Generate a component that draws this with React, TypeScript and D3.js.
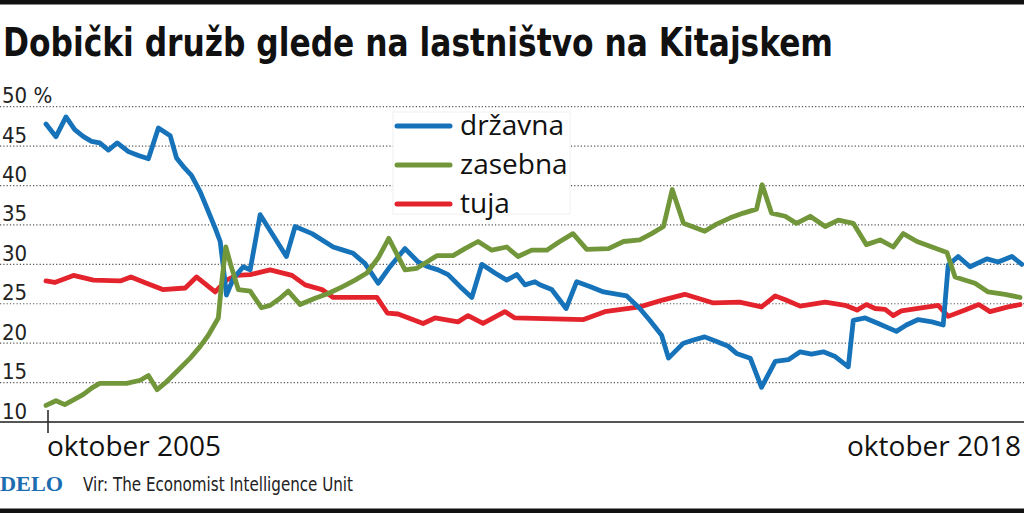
import React from "react";
import * as d3 from "d3";

// months since October 2005 (0 = Oct 2005, 156 = Oct 2018), values in %
const drzavna: [number, number][] = [
  [0, 47.8], [1.6, 46.2], [3.2, 48.7], [4.6, 47.1], [6.0, 46.2], [7.3, 45.6], [8.6, 45.4],
  [10.0, 44.5], [11.4, 45.4], [13.2, 44.3], [14.8, 43.8], [16.4, 43.4], [18.0, 47.3],
  [19.9, 46.3], [20.9, 43.5], [22.0, 42.4], [23.3, 41.3], [24.7, 39.2], [26.0, 36.7],
  [27.1, 34.6], [27.9, 32.9], [28.3, 30.3], [28.9, 26.1], [30.0, 28.2], [31.6, 29.7],
  [32.7, 29.3], [34.3, 36.3], [38.5, 31.0], [39.9, 34.8], [42.6, 33.9], [46.0, 32.2],
  [47.6, 31.8], [49.2, 31.4], [51.1, 30.1], [53.2, 27.6], [55.1, 29.7], [57.5, 32.0],
  [59.6, 30.3], [61.2, 29.7], [62.8, 29.3], [64.4, 28.7], [66.3, 27.2], [68.2, 25.8],
  [69.8, 30.0], [71.9, 28.9], [73.8, 28.0], [75.4, 28.7], [76.7, 27.4], [78.3, 27.8],
  [79.1, 27.4], [81.0, 26.8], [83.3, 24.4], [85.0, 27.8], [87.1, 27.2], [89.3, 26.5],
  [90.9, 26.3], [93.0, 26.0], [95.1, 24.4], [96.7, 22.9], [98.6, 21.0], [99.7, 18.1],
  [102.1, 20.0], [103.7, 20.4], [105.5, 20.8], [107.4, 20.2], [109.3, 19.6], [110.6, 18.7],
  [112.8, 18.1], [114.6, 14.4], [116.8, 17.7], [118.9, 17.9], [120.8, 18.9], [122.6, 18.6],
  [124.5, 18.9], [126.4, 18.3], [128.5, 17.0], [129.3, 22.9], [131.2, 23.2], [133.3, 22.5],
  [136.2, 21.5], [137.8, 22.3], [139.7, 23.0], [141.9, 22.7], [143.7, 22.3], [144.5, 29.9],
  [146.1, 31.0], [148.0, 29.7], [150.7, 30.7], [152.5, 30.3], [154.7, 31.0], [156.3, 30.0],
];

const zasebna: [number, number][] = [
  [0, 12.1], [1.6, 12.7], [3.0, 12.2], [4.4, 12.8], [6.0, 13.5], [7.3, 14.3], [8.6, 14.9],
  [12.9, 14.9], [15.1, 15.3], [16.4, 15.9], [17.8, 14.1], [19.3, 15.1], [21.2, 16.6],
  [23.1, 18.1], [24.7, 19.6], [26.0, 21.0], [27.6, 23.2], [28.1, 27.4], [28.8, 32.2],
  [29.6, 29.9], [30.8, 26.8], [32.7, 26.6], [34.5, 24.5], [35.9, 24.8], [37.5, 25.7],
  [38.8, 26.6], [40.7, 24.9], [43.1, 25.7], [45.2, 26.3], [47.6, 27.2], [49.5, 28.0],
  [51.4, 28.9], [53.2, 30.8], [54.9, 33.3], [57.5, 29.3], [59.4, 29.5], [61.0, 30.3],
  [62.6, 31.1], [65.2, 31.1], [67.1, 32.0], [69.2, 32.9], [71.4, 31.8], [73.8, 32.2],
  [75.6, 31.0], [77.8, 31.8], [80.2, 31.8], [82.3, 32.9], [84.4, 33.9], [86.6, 31.9],
  [90.1, 32.0], [92.5, 32.9], [95.1, 33.1], [97.0, 33.9], [98.9, 34.8], [100.3, 39.5],
  [102.1, 35.2], [105.5, 34.2], [107.4, 35.1], [109.6, 35.9], [111.7, 36.5], [113.8, 37.0],
  [114.7, 40.1], [116.2, 36.5], [118.4, 36.1], [120.2, 35.2], [122.4, 36.1], [124.8, 34.8],
  [126.9, 35.6], [129.3, 35.2], [131.4, 32.5], [133.6, 33.1], [135.7, 32.2], [137.3, 33.9],
  [139.5, 32.9], [141.9, 32.2], [144.3, 31.5], [145.6, 28.4], [148.8, 27.6], [150.9, 26.5],
  [153.6, 26.2], [156.0, 25.8],
];

const tuja: [number, number][] = [
  [0, 27.9], [1.4, 27.7], [4.4, 28.6], [7.6, 28.0], [11.9, 27.9], [13.6, 28.4], [16.1, 27.6],
  [18.7, 26.8], [22.3, 27.0], [24.1, 28.4], [27.1, 26.5], [28.9, 28.0], [30.5, 28.6],
  [32.7, 28.7], [35.9, 29.3], [39.4, 28.6], [41.5, 27.4], [44.2, 26.8], [46.0, 25.8],
  [53.0, 25.8], [54.7, 23.8], [56.4, 23.7], [60.4, 22.5], [62.3, 23.2], [66.0, 22.7],
  [67.6, 23.5], [70.0, 22.5], [73.5, 24.0], [75.1, 23.2], [86.1, 23.0], [89.5, 24.0],
  [95.1, 24.6], [98.9, 25.5], [102.3, 26.2], [106.9, 25.1], [111.1, 25.2], [114.6, 24.6],
  [116.8, 26.0], [118.4, 25.5], [120.8, 24.7], [124.8, 25.2], [128.0, 24.8], [129.9, 24.2],
  [131.4, 24.9], [132.8, 24.4], [134.4, 24.3], [135.7, 23.5], [137.0, 24.1], [142.9, 24.8],
  [144.5, 23.4], [147.2, 24.2], [149.4, 24.9], [151.2, 24.0], [154.1, 24.6], [156.0, 24.9],
];

const yTicks = [10, 15, 20, 25, 30, 35, 40, 45, 50];
const xLabels = ["oktober 2005", "oktober 2018"];
const seriesNames = ["državna", "zasebna", "tuja"];
const title = "Dobički družb glede na lastništvo na Kitajskem";
const source = "Vir: The Economist Intelligence Unit";

const COLORS = { drzavna: "#1673ba", zasebna: "#72963a", tuja: "#e4242c" };
const narrow = "'Liberation Sans Narrow', 'DejaVu Sans Condensed', 'Roboto', sans-serif";
const wide = "'Open Sans', 'Noto Sans', sans-serif";

export default function App() {
  const W = 1024, H = 513;
  const x = d3.scaleLinear().domain([0, 156]).range([46, 1020]);
  const y = d3.scaleLinear().domain([10, 50]).range([422, 106.7]);
  const line = d3.line<[number, number]>().x((d) => x(d[0])).y((d) => y(d[1]));

  const legend = [
    { name: seriesNames[0], color: COLORS.drzavna },
    { name: seriesNames[1], color: COLORS.zasebna },
    { name: seriesNames[2], color: COLORS.tuja },
  ];

  return (
    <svg width={W} height={H} style={{ position: "absolute", left: 0, top: 0, background: "#fff" }}>
      <rect x={0} y={0} width={W} height={H} fill="#fff" />
      <rect x={0} y={0} width={W} height={4.5} fill="#111" />
      <rect x={0} y={508.5} width={W} height={4.5} fill="#111" />

      <text x={3} y={56} fontFamily={narrow} fontWeight={700} fontSize={39} fill="#111"
        textLength={830} lengthAdjust="spacingAndGlyphs">{title}</text>

      {/* gridlines */}
      {yTicks.filter((t) => t > 10).map((t) => (
        <line key={t} x1={0} x2={W} y1={y(t)} y2={y(t)} stroke="#555" strokeWidth={1.2}
          strokeDasharray="1.2 2.1" />
      ))}
      {yTicks.map((t) => (
        <text key={"l" + t} x={2} y={y(t) - 3.5} fontFamily={narrow} fontSize={22} fill="#222">
          {t === 50 ? "50 %" : t}
        </text>
      ))}

      {/* axis */}
      <line x1={0} x2={W} y1={y(10)} y2={y(10)} stroke="#555" strokeWidth={1.8} />
      <line x1={x(0) + 2} x2={x(0) + 2} y1={410} y2={433} stroke="#222" strokeWidth={1.5} />
      <text x={x(0) + 1} y={456} fontFamily={wide} fontSize={28} fill="#111">{xLabels[0]}</text>
      <text x={x(156) + 1} y={456} textAnchor="end" fontFamily={wide} fontSize={28} fill="#111">{xLabels[1]}</text>

      {/* legend box */}
      <rect x={393} y={112} width={177} height={102} fill="#fff" stroke="#f0f0f0" strokeWidth={1} />

      {/* lines */}
      <g fill="none" strokeWidth={4.8} strokeLinejoin="round" strokeLinecap="round">
        <path d={line(tuja) || ""} stroke={COLORS.tuja} />
        <path d={line(drzavna) || ""} stroke={COLORS.drzavna} />
        <path d={line(zasebna) || ""} stroke={COLORS.zasebna} />
      </g>

      {/* legend */}
      {legend.map((l, i) => (
        <g key={l.name} transform={`translate(0, ${135 + i * 39})`}>
          <line x1={397} x2={450} y1={-9} y2={-9} stroke={l.color} strokeWidth={5} strokeLinecap="round" />
          <text x={460} y={0} fontFamily={wide} fontSize={28} fill="#111">{l.name}</text>
        </g>
      ))}

      {/* footer */}
      <text x={0} y={491} fontFamily="'Liberation Serif', 'DejaVu Serif', serif" fontWeight={700}
        fontSize={22} fill="#1c6cb0" textLength={63} lengthAdjust="spacingAndGlyphs">DELO</text>
      <text x={83} y={491} fontFamily={narrow} fontSize={20} fill="#222"
        textLength={270} lengthAdjust="spacingAndGlyphs">{source}</text>
    </svg>
  );
}
